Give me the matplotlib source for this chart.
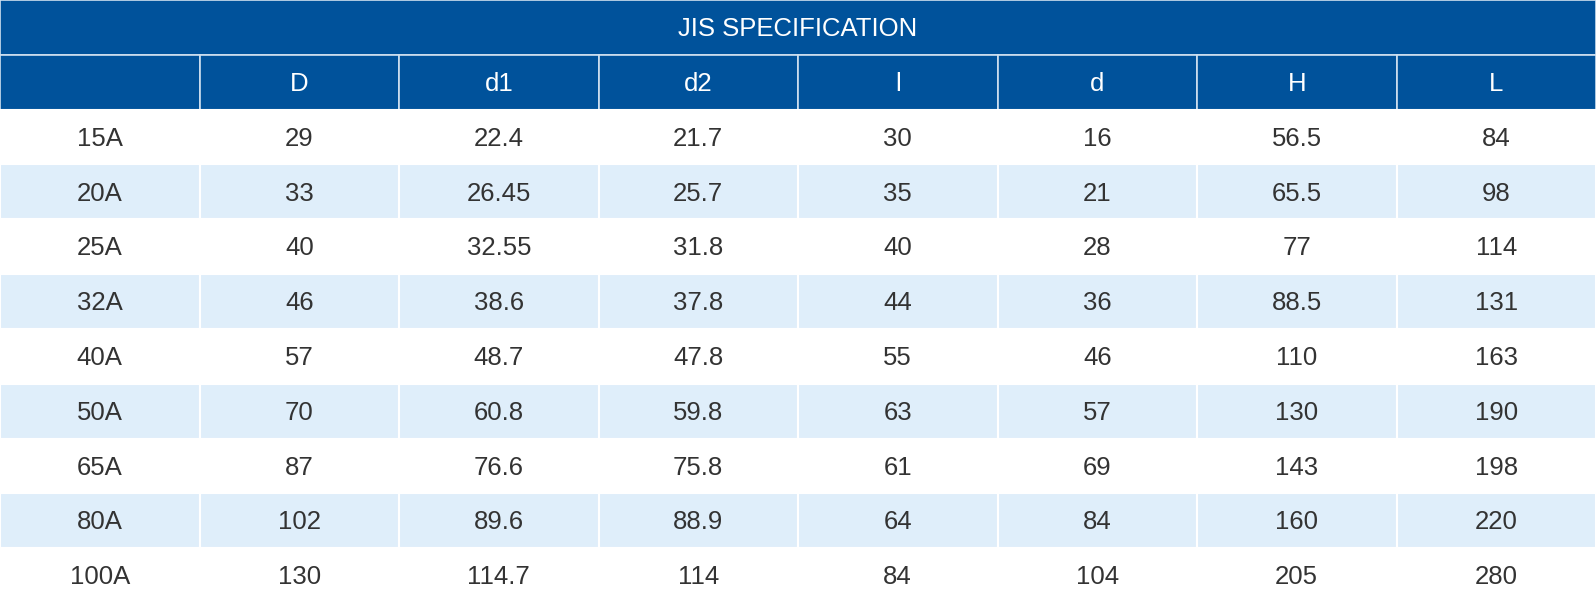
import matplotlib.pyplot as plt
from matplotlib.patches import Rectangle

plt.rcParams['font.family'] = ['Liberation Sans', 'DejaVu Sans']

title = 'JIS SPECIFICATION'
columns = ['', 'D', 'd1', 'd2', 'l', 'd', 'H', 'L']
sizes = ['15A', '20A', '25A', '32A', '40A', '50A', '65A', '80A', '100A']
D  = ['29', '33', '40', '46', '57', '70', '87', '102', '130']
d1 = ['22.4', '26.45', '32.55', '38.6', '48.7', '60.8', '76.6', '89.6', '114.7']
d2 = ['21.7', '25.7', '31.8', '37.8', '47.8', '59.8', '75.8', '88.9', '114']
l  = ['30', '35', '40', '44', '55', '63', '61', '64', '84']
d  = ['16', '21', '28', '36', '46', '57', '69', '84', '104']
H  = ['56.5', '65.5', '77', '88.5', '110', '130', '143', '160', '205']
L  = ['84', '98', '114', '131', '163', '190', '198', '220', '280']

rows = list(zip(sizes, D, d1, d2, l, d, H, L))

blue = '#00529b'
light = '#dfeefa'
txt = '#333333'
fs = 18.5

ncol = len(columns)
nrow = len(rows) + 2

fig = plt.figure(figsize=(15.96, 6.03), dpi=100, facecolor='white')
ax = fig.add_axes([0, 0, 1, 1])
ax.set_xlim(0, ncol)
ax.set_ylim(nrow, 0)
ax.axis('off')

# title band
ax.add_patch(Rectangle((0, 0), ncol, 1, facecolor=blue, edgecolor='#cfe0f0', lw=1.2))
ax.text(ncol / 2, 0.53, title, color='white', fontsize=fs, ha='center', va='center')

# header row
for j, name in enumerate(columns):
  ax.add_patch(Rectangle((j, 1), 1, 1, facecolor=blue, edgecolor='#cfe0f0', lw=1.2))
  ax.text(j + 0.5, 1.53, name, color='white', fontsize=fs, ha='center', va='center')

# data rows
for i, row in enumerate(rows):
  fc = 'white' if i % 2 == 0 else light
  for j, val in enumerate(row):
    ax.add_patch(Rectangle((j, i + 2), 1, 1, facecolor=fc, edgecolor='white', lw=1.5))
    ax.text(j + 0.5, i + 2.53, val, color=txt, fontsize=fs, ha='center', va='center')

fig.savefig('out.png', dpi=100, facecolor='white')
